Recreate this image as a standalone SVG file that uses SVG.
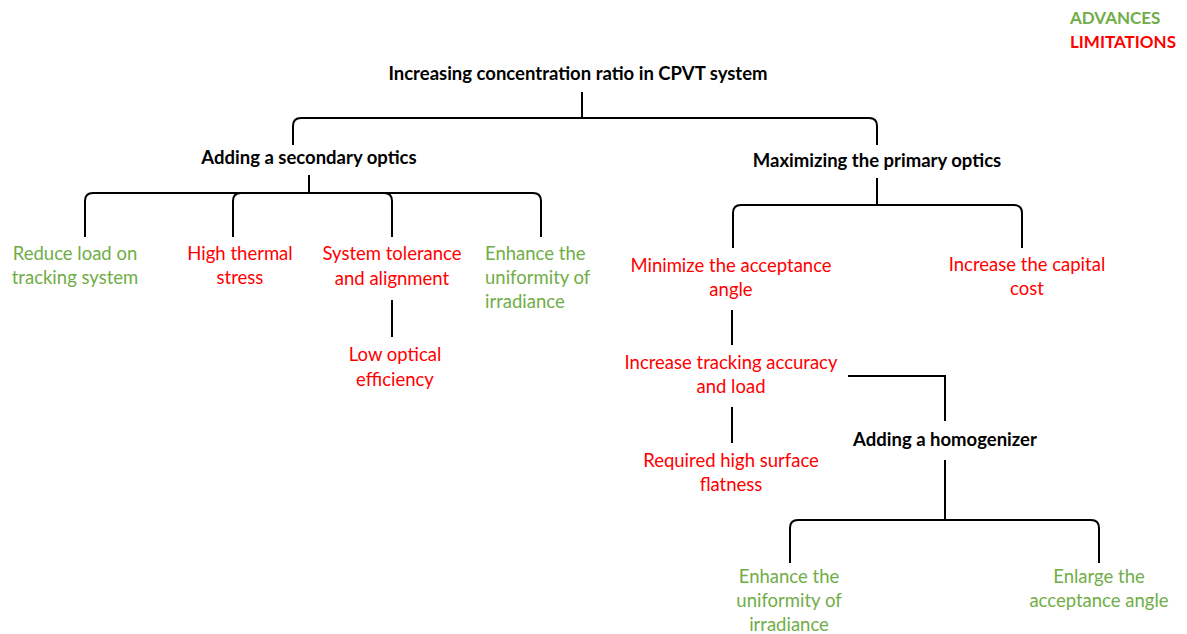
<svg xmlns="http://www.w3.org/2000/svg" width="1187" height="634" viewBox="0 0 1187 634">
<style>
text{font-family:Lato,"Liberation Sans",sans-serif;font-size:18.5px;text-anchor:middle}
.h{font-weight:bold;fill:#000}
.a{fill:#70ad47}
.l{fill:#ff0000}
.lg{font-weight:bold;text-anchor:start;font-size:17px}
.c path,.c line{stroke:#000;stroke-width:2;fill:none}
</style>
<rect width="1187" height="634" fill="#fff"/>
<g id="legend">
<text class="lg a" x="1070" y="24">ADVANCES</text>
<text class="lg l" x="1070" y="48">LIMITATIONS</text>
</g>
<g class="c" id="connectors">
<line x1="582" y1="92" x2="582" y2="118"/>
<path d="M293,145 V126 Q293,118 301,118 H869 Q877,118 877,126 V145"/>
<line x1="309" y1="175" x2="309" y2="193"/>
<path d="M85,237 V201 Q85,193 93,193 H533 Q541,193 541,201 V237"/>
<path d="M233,237 V201 Q233,193 241,193"/>
<path d="M392,237 V201 Q392,193 384,193"/>
<line x1="392" y1="300" x2="392" y2="337"/>
<line x1="877" y1="178" x2="877" y2="205"/>
<path d="M733,248 V213 Q733,205 741,205 H1014 Q1022,205 1022,213 V248"/>
<line x1="732" y1="310" x2="732" y2="345"/>
<path d="M848,376 H945 V421"/>
<line x1="732" y1="407" x2="732" y2="443"/>
<line x1="945" y1="460" x2="945" y2="520"/>
<path d="M790,563 V528 Q790,520 798,520 H1091 Q1099,520 1099,528 V563"/>
</g>
<g id="root"><text class="h" x="578" y="80">Increasing concentration ratio in CPVT system</text></g>
<g id="secondary"><text class="h" x="309" y="164">Adding a secondary optics</text></g>
<g id="primary"><text class="h" x="877" y="167">Maximizing the primary optics</text></g>
<g id="reduce-load"><text class="a" x="75" y="260">Reduce load on</text><text class="a" x="75" y="284">tracking system</text></g>
<g id="thermal"><text class="l" x="240" y="260">High thermal</text><text class="l" x="240" y="284">stress</text></g>
<g id="tolerance"><text class="l" x="392" y="260">System tolerance</text><text class="l" x="392" y="285">and alignment</text></g>
<g id="uniformity1"><text class="a" x="485" y="260" style="text-anchor:start">Enhance the</text><text class="a" x="485" y="284" style="text-anchor:start">uniformity of</text><text class="a" x="485" y="308" style="text-anchor:start">irradiance</text></g>
<g id="low-optical"><text class="l" x="395" y="361">Low optical</text><text class="l" x="395" y="386">efficiency</text></g>
<g id="min-angle"><text class="l" x="731" y="272">Minimize the acceptance</text><text class="l" x="731" y="296">angle</text></g>
<g id="capital"><text class="l" x="1027" y="271">Increase the capital</text><text class="l" x="1027" y="295">cost</text></g>
<g id="tracking"><text class="l" x="731" y="369">Increase tracking accuracy</text><text class="l" x="731" y="393">and load</text></g>
<g id="flatness"><text class="l" x="731" y="467">Required high surface</text><text class="l" x="731" y="491">flatness</text></g>
<g id="homogenizer"><text class="h" x="945" y="446">Adding a homogenizer</text></g>
<g id="uniformity2"><text class="a" x="789" y="583">Enhance the</text><text class="a" x="789" y="607">uniformity of</text><text class="a" x="789" y="631">irradiance</text></g>
<g id="enlarge"><text class="a" x="1099" y="583">Enlarge the</text><text class="a" x="1099" y="607">acceptance angle</text></g>
</svg>
